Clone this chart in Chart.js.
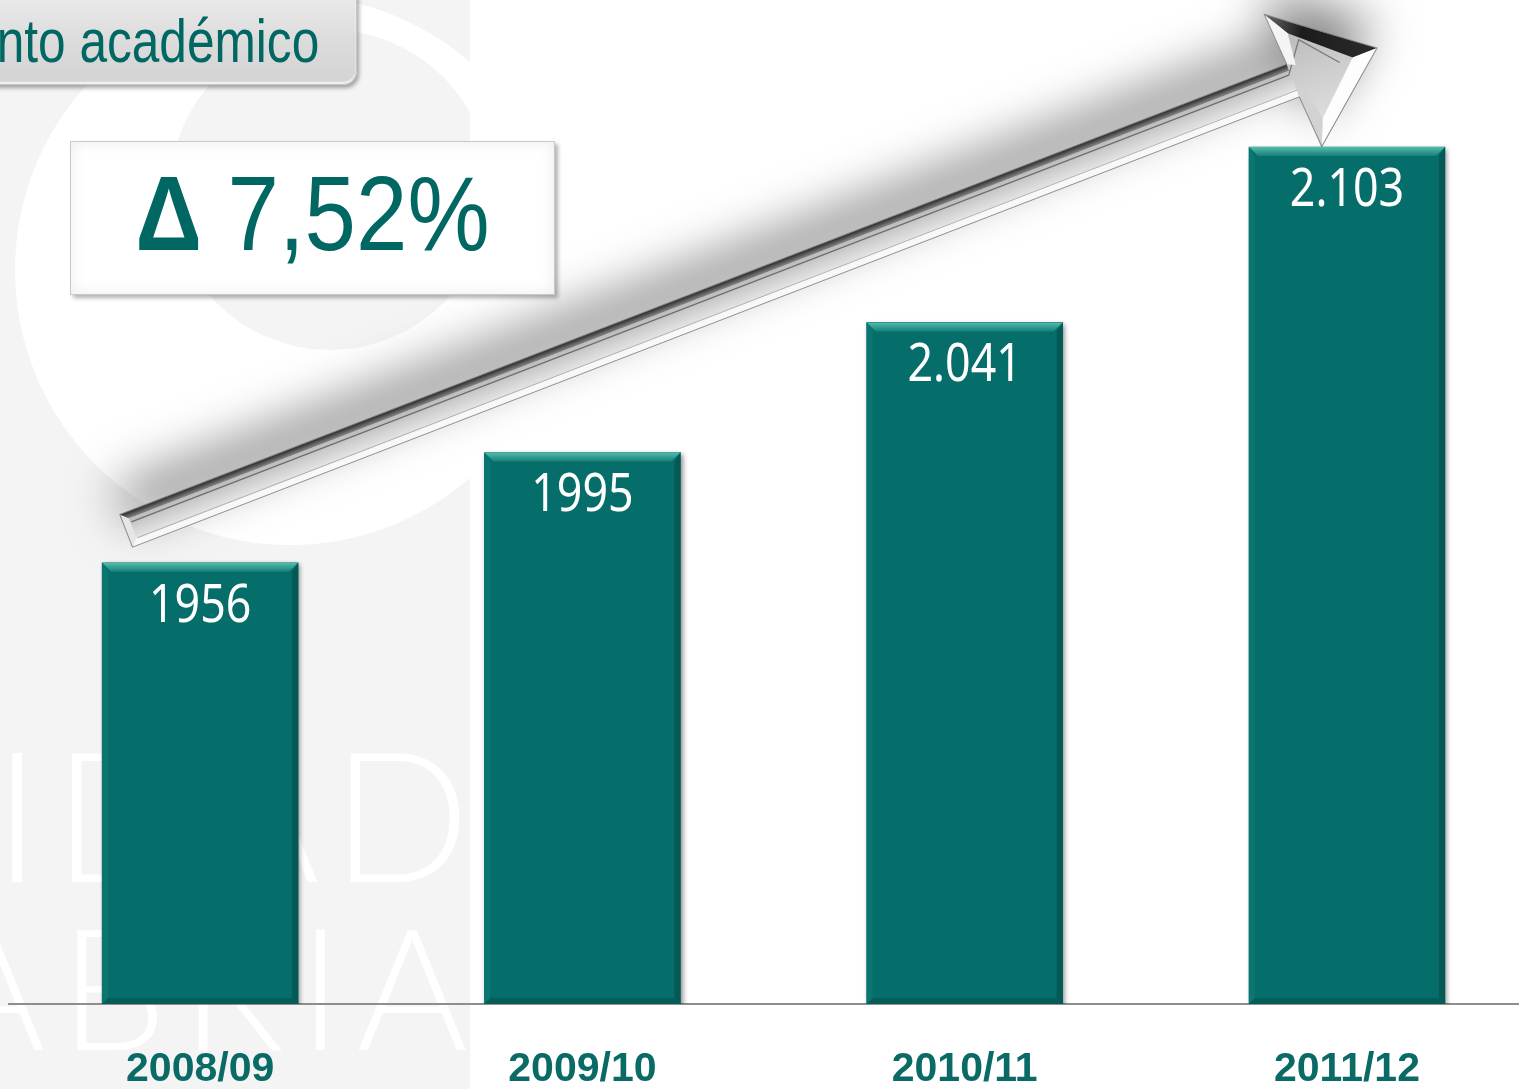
<!DOCTYPE html>
<html>
<head>
<meta charset="utf-8">
<script src="https://cdn.jsdelivr.net/npm/chart.js@4.4.0/dist/chart.umd.min.js"></script>
<style>
html,body{margin:0;padding:0;width:1519px;height:1089px;overflow:hidden;background:#fff;}
#bg{position:absolute;left:0;top:0;width:470px;height:1089px;background:#f4f4f4;overflow:hidden;}
#bg svg{position:absolute;left:0;top:0;}
.wm{position:absolute;font-family:Lato,"Liberation Sans",sans-serif;font-weight:300;color:#ffffff;white-space:nowrap;line-height:1;}
#wm1{font-size:182px;top:721px;right:-12px;letter-spacing:12px;}
#wm2{font-size:170px;top:899px;right:-12px;letter-spacing:14px;}
#wrap{position:absolute;left:0;top:0;width:1519px;height:1089px;}
#title{position:absolute;left:-20px;top:-14px;width:377px;height:99px;box-sizing:border-box;border-radius:14px;
  background:linear-gradient(to bottom,#ededed,#dcdcdc 55%,#d3d3d3);border:1px solid #c6c6c6;
  box-shadow:2px 3px 4px rgba(0,0,0,0.35), inset 0 -2px 2px rgba(255,255,255,0.8);}
#title span{position:absolute;right:37px;top:23px;font-family:"Liberation Sans",Arial,sans-serif;font-size:62px;line-height:62px;
  color:#006763;white-space:nowrap;transform:scaleX(0.8);transform-origin:right center;}
#delta{position:absolute;left:70px;top:141px;width:485px;height:154px;box-sizing:border-box;background:#fff;
  border:1.5px solid #c9c9c9;box-shadow:3px 3px 4px rgba(0,0,0,0.3), inset 0 0 16px rgba(0,0,0,0.08);}
#delta span{position:absolute;left:0;width:100%;top:19px;text-align:center;font-family:"Liberation Sans",Arial,sans-serif;
  font-size:105px;line-height:105px;color:#006763;white-space:nowrap;transform:scaleX(0.88);transform-origin:center;}
</style>
</head>
<body>
<div id="bg">
  <svg width="470" height="1089">
    <path fill="#ffffff" fill-rule="evenodd" d="M15,270 a275,275 0 1,0 550,0 a275,275 0 1,0 -550,0 Z M170,190 a160,160 0 1,0 320,0 a160,160 0 1,0 -320,0 Z"/>
  </svg>
  <div class="wm" id="wm1">UNIVERSIDAD</div>
  <div class="wm" id="wm2">CANTABRIA</div>
</div>
<div id="wrap"><canvas id="c"></canvas></div>
<div id="title"><span id="titleText"></span></div>
<div id="delta"><span id="deltaText"></span></div>
<script>
// ---- data ----
const categories = ['2008/09', '2009/10', '2010/11', '2011/12'];
const values = [1956, 1995, 2041, 2103];
const valueLabels = ['1956', '1995', '2.041', '2.103'];
const titleText = 'nto académico';
const deltaSymbol = 'Δ';
const deltaValue = '7,52%';

document.getElementById('titleText').textContent = titleText;
document.getElementById('deltaText').innerHTML = '<b>' + deltaSymbol + '</b> ' + deltaValue;

const TEAL = '#066e6a';
const TEXT_TEAL = '#0a6a66';

// ---- arrow (decoration anchored on the first and last bars) ----
function drawArrow(ctx, tail, tip) {
  const dx = tip.x - tail.x, dy = tip.y - tail.y;
  const L = Math.hypot(dx, dy), ang = Math.atan2(dy, dx);
  const hw = 17.5, hb = L - 90, wing = 72;
  ctx.save();
  ctx.translate(tail.x, tail.y);
  ctx.rotate(ang);
  const outline = () => {
    ctx.beginPath();
    ctx.moveTo(0, -hw); ctx.lineTo(hb, -hw); ctx.lineTo(hb - 3, -wing); ctx.lineTo(L, 0);
    ctx.lineTo(hb + 3, wing); ctx.lineTo(hb, hw); ctx.lineTo(0, hw); ctx.closePath();
  };
  // soft shadow (haze above the arrow)
  ctx.save();
  ctx.shadowColor = 'rgba(0,0,0,0.5)';
  ctx.shadowBlur = 50;
  ctx.shadowOffsetX = -4;
  ctx.shadowOffsetY = -26;
  outline(); ctx.fillStyle = '#d0d0d0'; ctx.fill();
  ctx.restore();

  // shaft faces
  const b = 7;
  let g = ctx.createLinearGradient(0, -hw, 0, -hw + b);
  g.addColorStop(0, '#262626'); g.addColorStop(1, '#8a8a8a');
  ctx.fillStyle = g; ctx.fillRect(0, -hw, hb, b);
  g = ctx.createLinearGradient(0, -hw + b, 0, hw - b);
  g.addColorStop(0, '#bcbcbc'); g.addColorStop(0.45, '#cfcfcf'); g.addColorStop(1, '#e4e4e4');
  ctx.fillStyle = g; ctx.fillRect(0, -hw + b, hb, 2 * hw - 2 * b);
  ctx.fillStyle = '#f8f8f8'; ctx.fillRect(0, hw - b, hb, b);
  // groove lines
  ctx.strokeStyle = '#6f6f6f'; ctx.lineWidth = 1.5;
  ctx.beginPath(); ctx.moveTo(8, -hw + b + 4); ctx.lineTo(hb - 2, -hw + b + 4); ctx.stroke();
  ctx.strokeStyle = '#b0b0b0'; ctx.lineWidth = 1;
  ctx.beginPath(); ctx.moveTo(8, hw - b); ctx.lineTo(hb + 6, hw - b); ctx.stroke();
  // tail cap facet
  ctx.fillStyle = '#e6e6e6';
  ctx.beginPath(); ctx.moveTo(0, -hw); ctx.lineTo(7, -hw + b); ctx.lineTo(7, hw - b); ctx.lineTo(0, hw); ctx.closePath(); ctx.fill();

  // head facets
  const A = [hb - 3, -wing], T = [L, 0], B = [hb + 3, wing];
  const Ai = [hb + 12, -wing + 26], Ti = [L - 26, 0], Bi = [hb + 14, wing - 26];
  const poly = (pts, fill) => { ctx.beginPath(); ctx.moveTo(pts[0][0], pts[0][1]); for (let i = 1; i < pts.length; i++) ctx.lineTo(pts[i][0], pts[i][1]); ctx.closePath(); ctx.fillStyle = fill; ctx.fill(); };
  // inner face
  g = ctx.createLinearGradient(0, -wing, 0, wing);
  g.addColorStop(0, '#b0b0b0'); g.addColorStop(0.5, '#cdcdcd'); g.addColorStop(1, '#e6e6e6');
  poly([[hb, -hw], Ai, Ti, Bi, [hb, hw]], g);
  // inner groove
  ctx.strokeStyle = '#777'; ctx.lineWidth = 1.3;
  ctx.beginPath(); ctx.moveTo(hb - 2, -hw + b + 4); ctx.lineTo(Ai[0] + 8, Ai[1] + 10); ctx.lineTo(Ti[0] - 14, 0); ctx.stroke();
  // upper outer facet (dark)
  g = ctx.createLinearGradient(A[0], A[1], T[0], T[1]);
  g.addColorStop(0, '#6a6a6a'); g.addColorStop(0.35, '#1c1c1c'); g.addColorStop(1, '#2a2a2a');
  poly([A, T, Ti, Ai], g);
  // back upper facet
  poly([[hb, -hw], A, Ai, [hb + 8, -hw + 4]], '#f4f4f4');
  // lower facet (white)
  poly([T, B, Bi, Ti], '#fdfdfd');
  // back lower facet
  poly([[hb, hw], B, Bi, [hb + 8, hw - 2]], '#d2d2d2');
  // outline
  outline(); ctx.strokeStyle = 'rgba(130,130,130,0.9)'; ctx.lineWidth = 1; ctx.stroke();
  ctx.restore();
}

const decorPlugin = {
  id: 'decor',
  beforeDatasetsDraw(chart) {
    const ctx = chart.ctx;
    const bars = chart.getDatasetMeta(0).data;
    const b0 = bars[0], b3 = bars[bars.length - 1];
    drawArrow(ctx, { x: b0.x - b0.width / 2 + 24, y: b0.y - 32 }, { x: b3.x + 30, y: b3.y - 99 });
    ctx.save();
    ctx.shadowColor = 'rgba(0,0,0,0.45)';
    ctx.shadowBlur = 5;
    ctx.shadowOffsetX = 2;
    ctx.shadowOffsetY = 2;
  },
  afterDatasetsDraw(chart) {
    const ctx = chart.ctx;
    ctx.restore();
    const bottomEdge = chart.chartArea.bottom;
    const bars = chart.getDatasetMeta(0).data;
    bars.forEach((bar, i) => {
      const l = bar.x - bar.width / 2, r = bar.x + bar.width / 2, t = bar.y, btm = Math.min(bar.base, bottomEdge);
      const bv = 9;
      // top bevel
      let g = ctx.createLinearGradient(0, t, 0, t + bv);
      g.addColorStop(0, '#52bcae'); g.addColorStop(1, '#178077');
      ctx.fillStyle = g;
      ctx.beginPath(); ctx.moveTo(l, t); ctx.lineTo(r, t); ctx.lineTo(r - bv, t + bv); ctx.lineTo(l + bv, t + bv); ctx.closePath(); ctx.fill();
      // left bevel
      ctx.fillStyle = '#0b7671';
      ctx.beginPath(); ctx.moveTo(l, t); ctx.lineTo(l + 6, t + bv); ctx.lineTo(l + 6, btm - 6); ctx.lineTo(l, btm); ctx.closePath(); ctx.fill();
      // right bevel
      ctx.fillStyle = '#045955';
      ctx.beginPath(); ctx.moveTo(r, t); ctx.lineTo(r, btm); ctx.lineTo(r - 6, btm - 6); ctx.lineTo(r - 6, t + bv); ctx.closePath(); ctx.fill();
      // bottom bevel
      ctx.fillStyle = '#055c58';
      ctx.beginPath(); ctx.moveTo(l, btm); ctx.lineTo(r, btm); ctx.lineTo(r - 6, btm - 6); ctx.lineTo(l + 6, btm - 6); ctx.closePath(); ctx.fill();
      // value label
      ctx.save();
      ctx.translate(bar.x, t + 44);
      ctx.scale(0.86, 1);
      ctx.font = '52px "Noto Sans", "Liberation Sans", Arial, sans-serif';
      ctx.fillStyle = '#ffffff';
      ctx.textAlign = 'center';
      ctx.textBaseline = 'middle';
      ctx.fillText(valueLabels[i], 0, 0);
      ctx.restore();
    });
  }
};

new Chart(document.getElementById('c'), {
  type: 'bar',
  data: {
    datasets: [{
      data: values.map((v, i) => ({ x: i, y: v })),
      backgroundColor: TEAL,
      borderWidth: 0,
      barThickness: 196
    }]
  },
  options: {
    responsive: true,
    maintainAspectRatio: false,
    animation: false,
    layout: { padding: { left: 9, right: 0, top: 0, bottom: 0 } },
    plugins: { legend: { display: false }, tooltip: { enabled: false } },
    scales: {
      x: {
        type: 'linear',
        min: -0.5,
        max: 3.45,
        offset: false,
        grid: { display: false, drawTicks: false },
        border: { display: true, color: '#8e8e8e', width: 2 },
        afterBuildTicks: (s) => { s.ticks = categories.map((c, i) => ({ value: i })); },
        afterFit: (s) => { s.height = 85; },
        ticks: {
          autoSkip: false,
          maxRotation: 0,
          padding: 41,
          color: TEXT_TEAL,
          font: { family: '"Liberation Sans", Arial, sans-serif', size: 41, weight: 'bold' },
          callback: (v) => categories[v]
        }
      },
      y: {
        display: false,
        min: 1800,
        max: 2155
      }
    }
  },
  plugins: [decorPlugin]
});
</script>
</body>
</html>
